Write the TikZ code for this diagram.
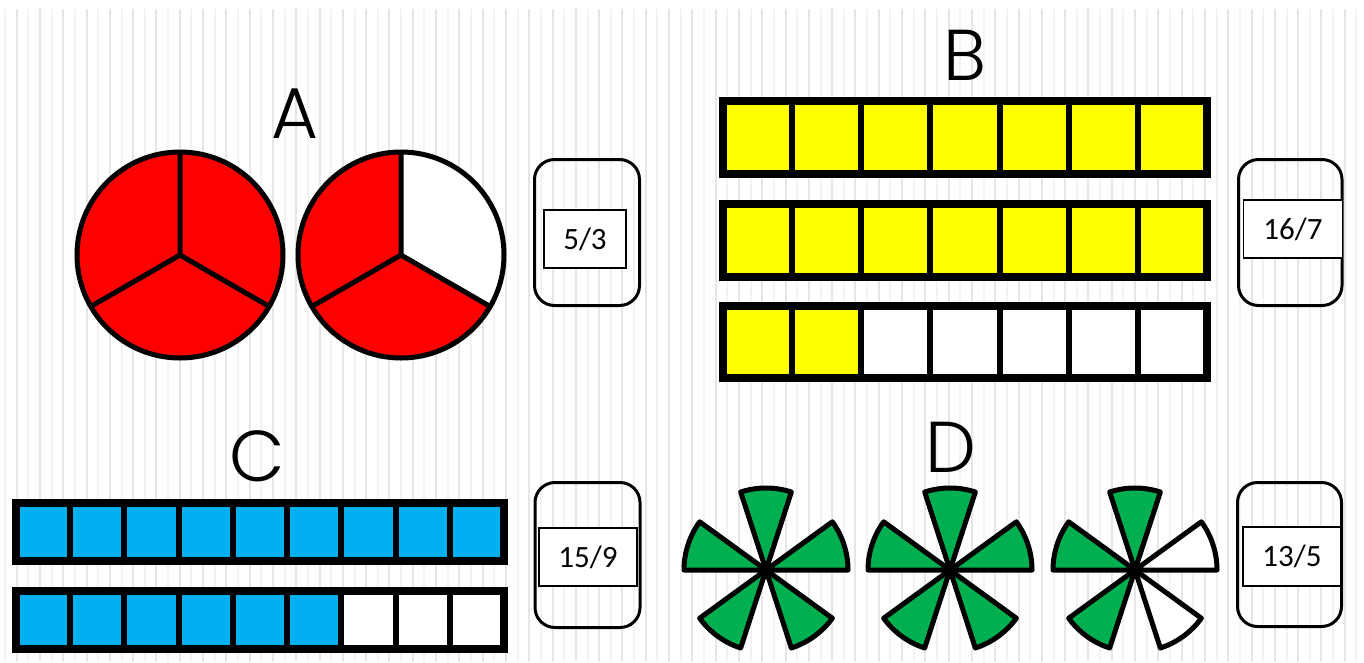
\documentclass[tikz,border=0pt]{standalone}
\usepackage{fontspec}
\setmainfont{Carlito}
\newfontfamily\geofont{Poppins Light}
\definecolor{pred}{HTML}{FF0000}
\definecolor{pyel}{HTML}{FFFF00}
\definecolor{pblue}{HTML}{00B0F0}
\definecolor{pgreen}{HTML}{00B050}
\definecolor{stripeA}{HTML}{F3F3F3}
\definecolor{stripeB}{HTML}{E6E6E6}
\newcommand\mkbar[8]{% x0 y0 x1 y1 n n-1 filled color
  \pgfmathsetmacro\cw{(#3-#1)/#5}
  \fill[white] (#1,#2) rectangle (#3,#4);
  \foreach \k in {1,...,#7} {\fill[#8] ({#1+(\k-1)*\cw},#2) rectangle ({#1+\k*\cw},#4);}
  \foreach \k in {1,...,#6} {\draw[line width=6] ({#1+\k*\cw},#2) -- ({#1+\k*\cw},#4);}
  \draw[line width=8] (#1,#2) rectangle (#3,#4);
}
\newcommand\mkflower[3]{% cx cy petal list
  \begin{scope}[shift={(#1,#2)},yscale=-1]
    \foreach \a/\c in {#3} {
      \filldraw[fill=\c,line width=5,line join=round] (0,0) -- (\a:82) arc[start angle=\a,end angle=\a+36,radius=82] -- cycle;
    }
  \end{scope}
}
\begin{document}
\begin{tikzpicture}[x=1pt,y=-1pt,
  letter/.style={font=\geofont\fontsize{72}{72}\selectfont,anchor=base,inner sep=0pt},
  ansbox/.style={draw,line width=1.5,fill=white,inner sep=0pt,font=\fontsize{31}{31}\selectfont},
  outerbox/.style={draw,line width=3,rounded corners=20}]
\useasboundingbox (0,0) rectangle (1364,662);
\fill[white] (0,0) rectangle (1364,662);
\foreach \i in {0,...,58} {
  \draw[stripeA,line width=2] ({5+23.3*\i},9) -- ({5+23.3*\i},662);
  \draw[stripeB,line width=2] ({16.6+23.3*\i},9) -- ({16.6+23.3*\i},662);
}
% ---------- A ----------
\node[letter] (labA) at (294.5,138) {A};
\begin{scope}[shift={(180,255)},yscale=-1]
  \fill[pred] (0,0) circle (103);
  \draw[line width=5] (0,0) circle (103);
  \draw[line width=5] (0,0) -- (90:103) (0,0) -- (210:103) (0,0) -- (330:103);
\end{scope}
\begin{scope}[shift={(401,255)},yscale=-1]
  \fill[pred] (0,0) circle (103);
  \fill[white] (0,0) -- (-30:103) arc[start angle=-30,end angle=90,radius=103] -- cycle;
  \draw[line width=5] (0,0) circle (103);
  \draw[line width=5] (0,0) -- (90:103) (0,0) -- (210:103) (0,0) -- (330:103);
\end{scope}
\draw[outerbox] (534.5,159.5) rectangle (639.5,305.5);
\node[ansbox,minimum width=82,minimum height=58] (ansA) at (585,239) {5/3};
% ---------- B ----------
\node[letter] (labB) at (964.5,80) {B};
\mkbar{723}{101}{1207}{174}{7}{6}{7}{pyel}
\mkbar{723}{204}{1207}{277}{7}{6}{7}{pyel}
\mkbar{723}{306}{1207}{378}{7}{6}{2}{pyel}
\draw[outerbox] (1238.5,159.5) rectangle (1342,305.5);
\node[ansbox,minimum width=99,minimum height=58] (ansB) at (1293,229) {16/7};
% ---------- C ----------
\node[letter] (labC) at (257.5,481) {C};
\mkbar{16}{503}{504}{561}{9}{8}{9}{pblue}
\mkbar{16}{591}{504}{649}{9}{8}{6}{pblue}
\draw[outerbox] (535,482.5) rectangle (640,627.5);
\node[ansbox,minimum width=98,minimum height=58] (ansC) at (588,557) {15/9};
% ---------- D ----------
\node[letter] (labD) at (950.5,472) {D};
\mkflower{766}{570}{0/pgreen,72/pgreen,144/pgreen,216/pgreen,288/pgreen}
\mkflower{950}{570}{0/pgreen,72/pgreen,144/pgreen,216/pgreen,288/pgreen}
\mkflower{1135}{570}{0/white,72/pgreen,144/pgreen,216/pgreen,288/white}
\draw[outerbox] (1237.5,482.5) rectangle (1341.5,626.5);
\node[ansbox,minimum width=98,minimum height=59] (ansD) at (1292,556.5) {13/5};
\end{tikzpicture}
\end{document}
